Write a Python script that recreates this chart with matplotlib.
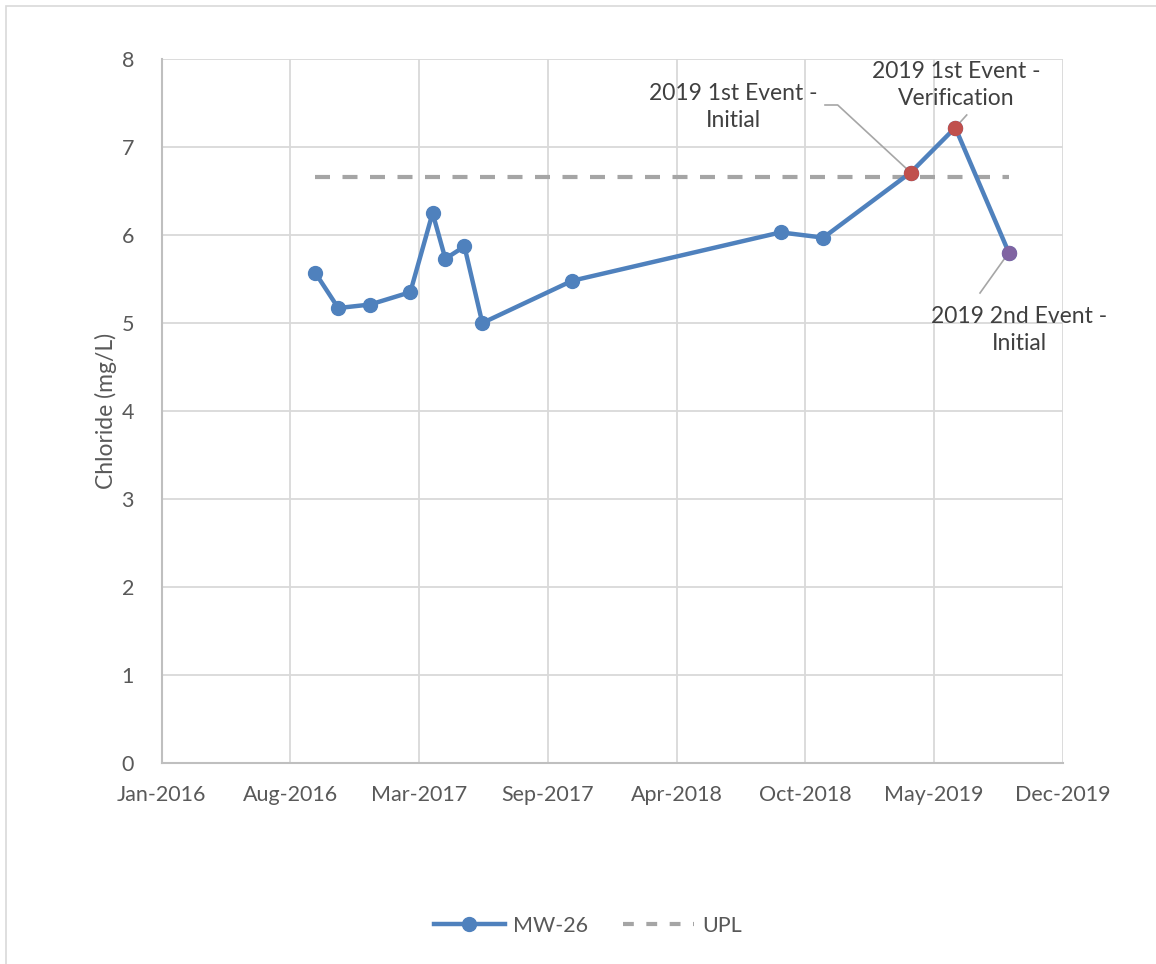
import datetime as dt
import matplotlib
matplotlib.use("Agg")
import matplotlib.pyplot as plt
import matplotlib.dates as mdates
from matplotlib.lines import Line2D
from matplotlib.patches import Rectangle

# MW-26 chloride results
sample_dates = ["2016-09-20", "2016-10-26", "2016-12-15", "2017-02-16", "2017-03-23",
                "2017-04-12", "2017-05-12", "2017-06-09", "2017-10-28", "2018-09-20",
                "2018-11-26", "2019-04-12", "2019-06-21", "2019-09-13"]
chloride = [5.57, 5.17, 5.21, 5.35, 6.25, 5.73, 5.87, 5.00, 5.48, 6.03, 5.97,
            6.71, 7.22, 5.80]
upl = 6.66

# highlighted 2019 events: (index into series, label, color)
event_idx = [11, 12, 13]
event_labels = ["2019 1st Event -\nInitial", "2019 1st Event -\nVerification",
                "2019 2nd Event -\nInitial"]
event_colors = ["#c0504d", "#c0504d", "#8064a2"]

tick_labels = ["Jan-2016", "Aug-2016", "Mar-2017", "Sep-2017", "Apr-2018",
               "Oct-2018", "May-2019", "Dec-2019"]

plt.rcParams['font.family'] = ['Lato', 'DejaVu Sans']

dates = [mdates.date2num(dt.datetime.strptime(d, "%Y-%m-%d")) for d in sample_dates]

W, H = 1156, 964
fig = plt.figure(figsize=(W / 100, H / 100), dpi=100)
ax = fig.add_axes([161.7 / W, 1 - 763 / H, (1063 - 161.7) / W, (763 - 59) / H])

# outer chart frame
fig.patches.append(Rectangle((6 / W, -0.05), 1.2, 1 - 5.5 / H + 0.05,
                             transform=fig.transFigure, fill=False,
                             edgecolor="#d9d9d9", linewidth=1.2))

blue = "#4f81bd"
dash = (0, (3.6, 3.0))
ax.plot(dates, chloride, color=blue, linewidth=3.2, marker="o", markersize=10,
        zorder=3, solid_capstyle="round")
ax.plot([dates[0], dates[-1]], [upl, upl], color="#a5a5a5", linewidth=3,
        linestyle=dash, zorder=2)

for i, c in zip(event_idx, event_colors):
    ax.plot(dates[i], chloride[i], "o", color=c, markersize=10, zorder=4)

# x axis: 202-day major spacing starting 23 Jan 2016
start = mdates.date2num(dt.datetime(2016, 1, 23))
ticks = [start + 202 * k for k in range(len(tick_labels))]
ax.set_xlim(ticks[0], ticks[-1])
ax.set_xticks(ticks)
ax.set_xticklabels(tick_labels)
ax.set_ylim(0, 8)
ax.set_yticks(range(9))

ax.grid(True, color="#d9d9d9", linewidth=1.3)
ax.set_axisbelow(True)
for s in ["top", "right"]:
    ax.spines[s].set_visible(False)
for s in ["left", "bottom"]:
    ax.spines[s].set_color("#bfbfbf")
    ax.spines[s].set_linewidth(1.5)
ax.tick_params(length=0, labelsize=15.5, colors="#595959")
ax.tick_params(axis="x", pad=16)
ax.tick_params(axis="y", pad=20)
ax.set_ylabel("Chloride (mg/L)", fontsize=16.5, color="#595959", labelpad=3)

# data callouts
def to_data(px, py):
    inv = ax.transData.inverted()
    return inv.transform((px, H - py))

txt_kw = dict(fontsize=16.5, color="#404040", ha="center", va="center",
              linespacing=1.35, zorder=5)
lead_kw = dict(color="#a6a6a6", linewidth=1.2, zorder=2.5)

# 1st event initial: label top-left, elbow leader
tx, ty = to_data(733, 107)
ax.text(tx, ty, event_labels[0], **txt_kw)
p1 = to_data(825, 105)
p2 = to_data(837.7, 105)
ax.add_line(Line2D([p1[0], p2[0], dates[event_idx[0]]],
                   [p1[1], p2[1], chloride[event_idx[0]]], **lead_kw))

# 1st event verification: label above
tx, ty = to_data(956, 85)
ax.text(tx, ty, event_labels[1], **txt_kw)
p1 = to_data(966.7, 115)
ax.add_line(Line2D([p1[0], dates[event_idx[1]]], [p1[1], chloride[event_idx[1]]],
                   **lead_kw))

# 2nd event initial: label below right
tx, ty = to_data(1019, 330)
ax.text(tx, ty, event_labels[2], **txt_kw)
p1 = to_data(980, 293)
ax.add_line(Line2D([p1[0], dates[event_idx[2]]], [p1[1], chloride[event_idx[2]]],
                   **lead_kw))

handles = [Line2D([], [], color=blue, linewidth=3.2, marker="o", markersize=10),
           Line2D([], [], color="#a5a5a5", linewidth=3, linestyle=(0, (2.6, 3.0)))]
fig.legend(handles, ["MW-26", "UPL"], loc="center", bbox_to_anchor=(588 / W, 1 - 926 / H),
           ncol=2, frameon=False, fontsize=15.5, labelcolor="#595959",
           handlelength=3.3, columnspacing=1.6, handletextpad=0.4)

fig.savefig("out.png", dpi=100)
